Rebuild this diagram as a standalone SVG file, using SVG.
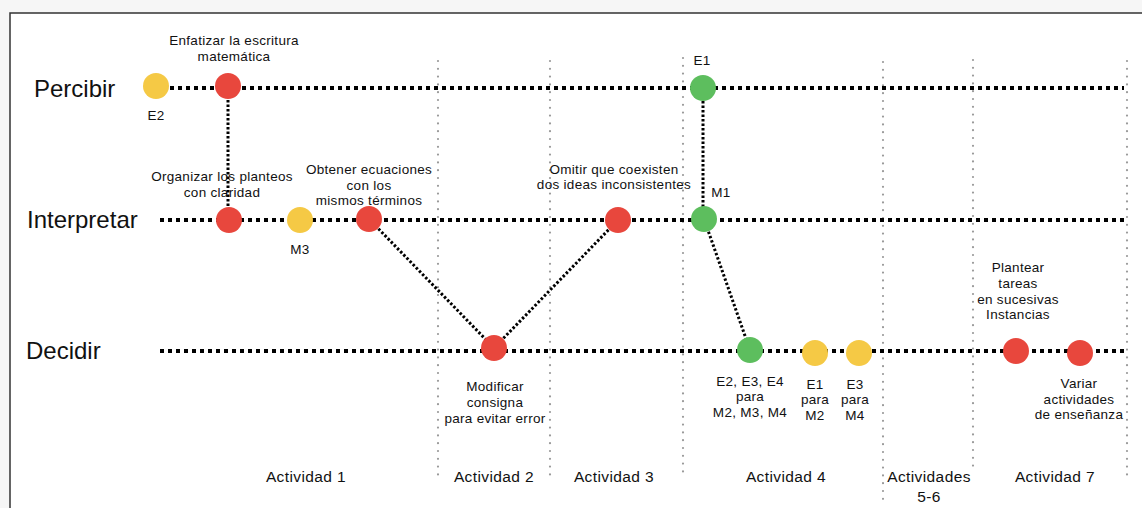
<svg xmlns="http://www.w3.org/2000/svg" width="1142" height="508" viewBox="0 0 1142 508">
  <style>
    .row { font-family: "Liberation Sans", Arial, sans-serif; font-size: 24px; fill: #111; }
    .lbl { font-family: "Liberation Sans", Arial, sans-serif; font-size: 13.5px; letter-spacing: 0.3px; fill: #111; text-anchor: middle; }
    .act { font-family: "Liberation Sans", Arial, sans-serif; font-size: 15.5px; letter-spacing: 0.4px; fill: #111; text-anchor: middle; }
    .axis { stroke: #000; stroke-width: 4; stroke-dasharray: 4 4; fill: none; }
    .link { stroke: #000; stroke-width: 3; stroke-dasharray: 2.5 2; fill: none; }
    .sep { stroke: #9a9a9a; stroke-width: 2.2; stroke-dasharray: 0 7.8; stroke-linecap: round; fill: none; }
    .red { fill: #E8473D; }
    .yel { fill: #F5C945; }
    .grn { fill: #5DBE5E; }
  </style>

  <!-- page and frame -->
  <rect x="0" y="0" width="1142" height="508" fill="#f6f6f6"/>
  <rect x="10" y="13" width="1140" height="500" fill="#ffffff"/>
  <path d="M10,508 V13 H1142" fill="none" stroke="#333" stroke-width="1.5"/>

  <!-- activity separators -->
  <g id="separators">
    <line class="sep" x1="438" y1="61" x2="438" y2="479"/>
    <line class="sep" x1="550" y1="61" x2="550" y2="479"/>
    <line class="sep" x1="683" y1="58" x2="683" y2="476"/>
    <line class="sep" x1="883" y1="62" x2="883" y2="506"/>
    <line class="sep" x1="973" y1="60" x2="973" y2="472"/>
    <line class="sep" x1="1127" y1="61" x2="1127" y2="479"/>
  </g>

  <!-- level axes -->
  <g id="axes">
    <line class="axis" x1="170" y1="88" x2="1124" y2="88"/>
    <line class="axis" x1="160" y1="220" x2="1124" y2="220"/>
    <line class="axis" x1="160" y1="351" x2="1124" y2="351"/>
    <text class="row" x="34" y="97">Percibir</text>
    <text class="row" x="27" y="228">Interpretar</text>
    <text class="row" x="26" y="359">Decidir</text>
  </g>

  <!-- connectors between levels -->
  <g id="connectors">
    <line class="link" x1="228" y1="100" x2="228" y2="208"/>
    <line class="link" x1="369" y1="219" x2="494" y2="348"/>
    <line class="link" x1="494" y1="348" x2="618" y2="220"/>
    <line class="link" x1="703" y1="101" x2="703" y2="207"/>
    <line class="link" x1="704" y1="219" x2="750" y2="350"/>
  </g>

  <!-- Percibir -->
  <g id="n-e2">
    <circle class="yel" cx="156" cy="86" r="13"/>
    <text class="lbl" x="156" y="120">E2</text>
  </g>
  <g id="n-enfatizar">
    <circle class="red" cx="228" cy="86" r="13"/>
    <text class="lbl" x="234" y="45">Enfatizar la escritura</text>
    <text class="lbl" x="234" y="61">matemática</text>
  </g>
  <g id="n-e1">
    <circle class="grn" cx="703" cy="88" r="13"/>
    <text class="lbl" x="702" y="65">E1</text>
  </g>

  <!-- Interpretar -->
  <g id="n-organizar">
    <circle class="red" cx="229" cy="220" r="13"/>
    <text class="lbl" x="222" y="181">Organizar los planteos</text>
    <text class="lbl" x="222" y="197">con claridad</text>
  </g>
  <g id="n-m3">
    <circle class="yel" cx="300" cy="220" r="13"/>
    <text class="lbl" x="300" y="254">M3</text>
  </g>
  <g id="n-obtener">
    <circle class="red" cx="369" cy="219" r="13"/>
    <text class="lbl" x="369" y="174">Obtener ecuaciones</text>
    <text class="lbl" x="369" y="190">con los</text>
    <text class="lbl" x="369" y="205">mismos términos</text>
  </g>
  <g id="n-omitir">
    <circle class="red" cx="618" cy="220" r="13"/>
    <text class="lbl" x="614" y="174">Omitir que coexisten</text>
    <text class="lbl" x="614" y="189">dos ideas inconsistentes</text>
  </g>
  <g id="n-m1">
    <circle class="grn" cx="704" cy="219" r="13"/>
    <text class="lbl" x="721" y="197">M1</text>
  </g>

  <!-- Decidir -->
  <g id="n-modificar">
    <circle class="red" cx="494" cy="348" r="13"/>
    <text class="lbl" x="495" y="391">Modificar</text>
    <text class="lbl" x="495" y="407">consigna</text>
    <text class="lbl" x="495" y="423">para evitar error</text>
  </g>
  <g id="n-e234">
    <circle class="grn" cx="750" cy="350" r="13"/>
    <text class="lbl" x="750" y="386">E2, E3, E4</text>
    <text class="lbl" x="750" y="401">para</text>
    <text class="lbl" x="750" y="417">M2, M3, M4</text>
  </g>
  <g id="n-e1m2">
    <circle class="yel" cx="815" cy="353" r="13"/>
    <text class="lbl" x="815" y="389">E1</text>
    <text class="lbl" x="815" y="404">para</text>
    <text class="lbl" x="815" y="420">M2</text>
  </g>
  <g id="n-e3m4">
    <circle class="yel" cx="859" cy="353" r="13"/>
    <text class="lbl" x="855" y="389">E3</text>
    <text class="lbl" x="855" y="404">para</text>
    <text class="lbl" x="855" y="420">M4</text>
  </g>
  <g id="n-plantear">
    <circle class="red" cx="1016" cy="351" r="13"/>
    <text class="lbl" x="1018" y="272">Plantear</text>
    <text class="lbl" x="1018" y="288">tareas</text>
    <text class="lbl" x="1018" y="304">en sucesivas</text>
    <text class="lbl" x="1018" y="319">Instancias</text>
  </g>
  <g id="n-variar">
    <circle class="red" cx="1080" cy="353" r="13"/>
    <text class="lbl" x="1079" y="388">Variar</text>
    <text class="lbl" x="1079" y="404">actividades</text>
    <text class="lbl" x="1079" y="419">de enseñanza</text>
  </g>

  <!-- activity captions -->
  <g id="activities">
    <text class="act" x="306" y="482">Actividad 1</text>
    <text class="act" x="494" y="482">Actividad 2</text>
    <text class="act" x="614" y="482">Actividad 3</text>
    <text class="act" x="786" y="482">Actividad 4</text>
    <text class="act" x="929" y="482">Actividades</text>
    <text class="act" x="929" y="502">5-6</text>
    <text class="act" x="1055" y="482">Actividad 7</text>
  </g>
</svg>
